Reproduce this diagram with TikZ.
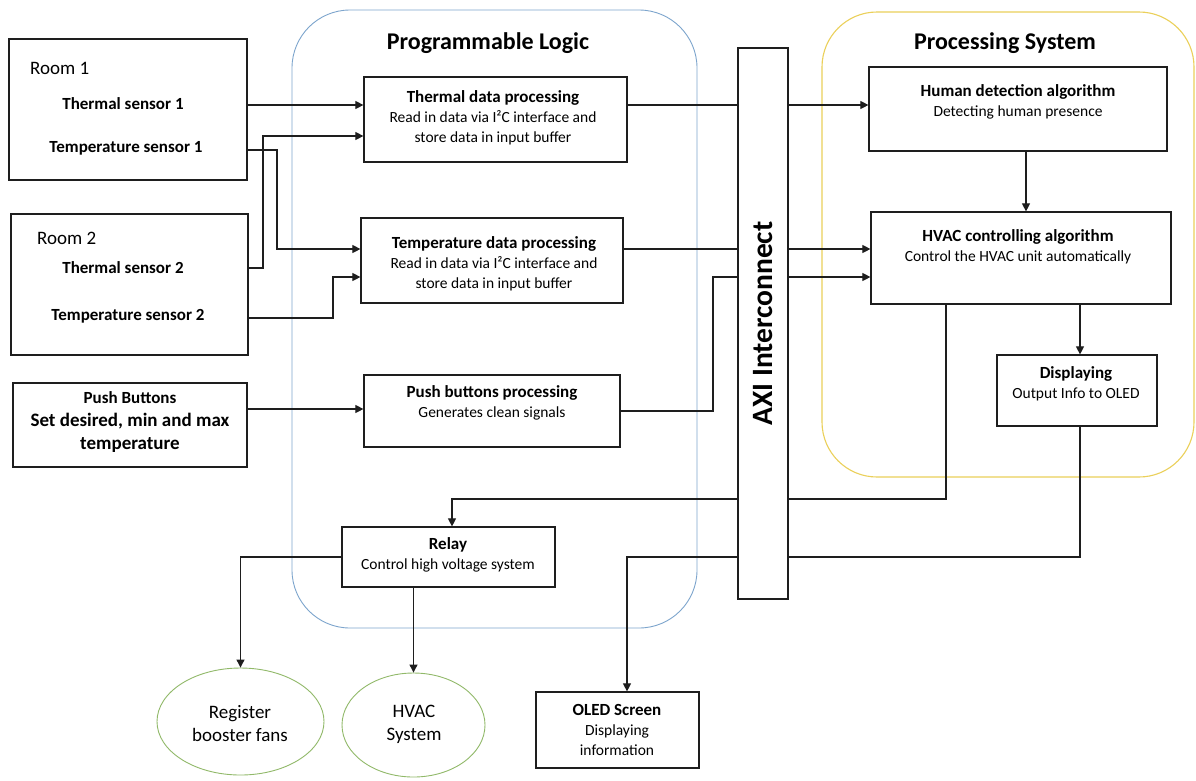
\documentclass[tikz,border=0pt]{standalone}
\usepackage{fontspec}
\setmainfont{Carlito}
\usetikzlibrary{arrows.meta,shapes.geometric}
\definecolor{plblue}{RGB}{125,165,205}
\definecolor{psyellow}{RGB}{235,208,90}
\definecolor{elgreen}{RGB}{145,185,105}
\definecolor{lnc}{RGB}{30,30,30}
\begin{document}
\begin{tikzpicture}[x=1pt,y=-1pt,
  box/.style={draw=lnc, line width=1.2pt, rectangle, inner sep=0pt},
  ell/.style={draw=elgreen, line width=0.9pt, ellipse, inner sep=0pt},
  conn/.style={draw=lnc, line width=1.1pt},
  arr/.style={draw=lnc, line width=1.1pt, -{Triangle[length=8pt,width=8pt]}},
  txt/.style={inner sep=0pt, align=center, font=\fontsize{15.5}{20}\selectfont},
  ttl/.style={font=\fontsize{17}{20}\selectfont\bfseries},
  big/.style={inner sep=0pt, align=center, font=\fontsize{19}{23}\selectfont}]
\useasboundingbox (0,0) rectangle (1196,780);
\fill[white] (0,0) rectangle (1196,780);

% containers
\draw[plblue, line width=0.9pt, rounded corners=58pt] (292,10) rectangle (697,628);
\draw[psyellow, line width=1.1pt, rounded corners=55pt] (822,12) rectangle (1194,477);
\node[inner sep=0pt, font=\fontsize{24}{28}\selectfont\bfseries] (pltitle) at (488,43) {Programmable Logic};
\node[inner sep=0pt, font=\fontsize{24}{28}\selectfont\bfseries] (pstitle) at (1005,43) {Processing System};

% boxes
\node[box, minimum width=238pt, minimum height=141pt] (room1) at (128,109.5) {};
\node[box, minimum width=237pt, minimum height=141pt] (room2) at (129.5,284.5) {};
\node[box, minimum width=234pt, minimum height=84pt] (pushb) at (130,425) {};
\node[box, minimum width=263pt, minimum height=85pt] (thermal) at (495.5,119.5) {};
\node[box, minimum width=262pt, minimum height=85pt] (temp) at (492,260.5) {};
\node[box, minimum width=256pt, minimum height=72pt] (pushp) at (492,411) {};
\node[box, minimum width=213pt, minimum height=60pt] (relay) at (448.5,557) {};
\node[box, fill=white, minimum width=50pt, minimum height=551pt] (axi) at (763,323.5) {};
\node[box, minimum width=298pt, minimum height=84pt] (human) at (1018,109) {};
\node[box, minimum width=300pt, minimum height=92pt] (hvac) at (1021,258) {};
\node[box, minimum width=160pt, minimum height=71pt] (disp) at (1077,390.5) {};
\node[box, minimum width=163pt, minimum height=76pt] (oled) at (617.5,730) {};
\node[ell, minimum width=167pt, minimum height=107pt] (fans) at (240.5,721.5) {};
\node[ell, minimum width=143pt, minimum height=104pt] (hvacsys) at (413.5,725) {};

% texts
\node[txt, anchor=west, font=\fontsize{19}{23}\selectfont] (room1t) at (30,68) {Room 1};
\node[txt, ttl] (ts1) at (123,104) {Thermal sensor 1};
\node[txt, ttl] (tp1) at (126,148) {Temperature sensor 1};
\node[txt, anchor=west, font=\fontsize{19}{23}\selectfont] (room2t) at (37,238) {Room 2};
\node[txt, ttl] (ts2) at (123,268) {Thermal sensor 2};
\node[txt, ttl] (tp2) at (128,316) {Temperature sensor 2};
\node[big, font=\fontsize{19}{23}\selectfont\bfseries] (pushbt) at (130,422.5)
  {{\fontsize{17}{21}\selectfont Push Buttons}\\Set desired, min and max\\temperature};

\node[txt] (thermalt) at (493,117.5)
  {{\bfseries\fontsize{17}{20}\selectfont Thermal data processing}\\Read in data via I²C interface and\\store data in input buffer};
\node[txt] (tempt) at (494,263.5)
  {{\bfseries\fontsize{17}{20}\selectfont Temperature data processing}\\Read in data via I²C interface and\\store data in input buffer};
\node[txt] (pushpt) at (492,402.5)
  {{\bfseries\fontsize{17}{20}\selectfont Push buttons processing}\\Generates clean signals};
\node[txt] (relayt) at (448,555)
  {{\bfseries\fontsize{17}{20}\selectfont Relay}\\Control high voltage system};
\node[txt] (humant) at (1018,101.5)
  {{\bfseries\fontsize{17}{20}\selectfont Human detection algorithm}\\Detecting human presence};
\node[txt] (hvact) at (1018,246.5)
  {{\bfseries\fontsize{17}{20}\selectfont HVAC controlling algorithm}\\Control the HVAC unit automatically};
\node[txt] (dispt) at (1076,383.5)
  {{\bfseries\fontsize{17}{20}\selectfont Displaying}\\Output Info to OLED};
\node[txt] (oledt) at (617,729.5)
  {{\bfseries\fontsize{17}{20}\selectfont OLED Screen}\\Displaying\\information};
\node[big] (fanst) at (240,723.5) {Register\\booster fans};
\node[big] (hvacsyst) at (414,724) {HVAC\\System};
\node[inner sep=0pt, rotate=90, font=\fontsize{29.5}{32}\selectfont\bfseries] (axit) at (axi.center) {AXI Interconnect};

% helper levels
\coordinate (yA) at (0,105);
\coordinate (yB) at (0,136);
\coordinate (yC) at (0,150);
\coordinate (yD) at (0,249);
\coordinate (yE) at (0,268);
\coordinate (yF) at (0,277);
\coordinate (yG) at (0,318);
\coordinate (yH) at (0,409);
\coordinate (yJ) at (0,499);
\coordinate (yK) at (0,557);
\coordinate (xa) at (277,0);
\coordinate (xb) at (263,0);
\coordinate (xc) at (333,0);
\coordinate (xd) at (713,0);
\coordinate (xe) at (946,0);
\coordinate (xf) at (1080,0);
\coordinate (xg) at (452,0);
\coordinate (xh) at (627,0);
\coordinate (xk) at (1026,0);

% connectors
\draw[arr] (room1.east |- yA) -- (thermal.west |- yA);
\draw[arr] (room1.east |- yC) -| (xa |- yD) -- (temp.west |- yD);
\draw[arr] (room2.east |- yE) -| (xb |- yB) -- (thermal.west |- yB);
\draw[arr] (room2.east |- yG) -| (xc |- yF) -- (temp.west |- yF);
\draw[arr] (pushb.east |- yH) -- (pushp.west |- yH);

\draw[conn] (thermal.east |- yA) -- (axi.west |- yA);
\draw[arr] (axi.east |- yA) -- (human.west |- yA);
\draw[conn] (temp.east |- yD) -- (axi.west |- yD);
\draw[arr] (axi.east |- yD) -- (hvac.west |- yD);
\draw[conn] (pushp.east) -| (xd |- yF) -- (axi.west |- yF);
\draw[arr] (axi.east |- yF) -- (hvac.west |- yF);

\draw[arr] (human.south -| xk) -- (hvac.north -| xk);
\draw[arr] (hvac.south -| xf) -- (disp.north -| xf);

\draw[conn] (hvac.south -| xe) |- (axi.east |- yJ);
\draw[arr] (axi.west |- yJ) -| (relay.north -| xg);
\draw[conn] (disp.south -| xf) |- (axi.east |- yK);
\draw[arr] (axi.west |- yK) -| (oled.north -| xh);

\draw[arr] (relay.west) -| (fans.north);
\draw[arr] (relay.south -| hvacsys.north) -- (hvacsys.north);
\end{tikzpicture}
\end{document}
